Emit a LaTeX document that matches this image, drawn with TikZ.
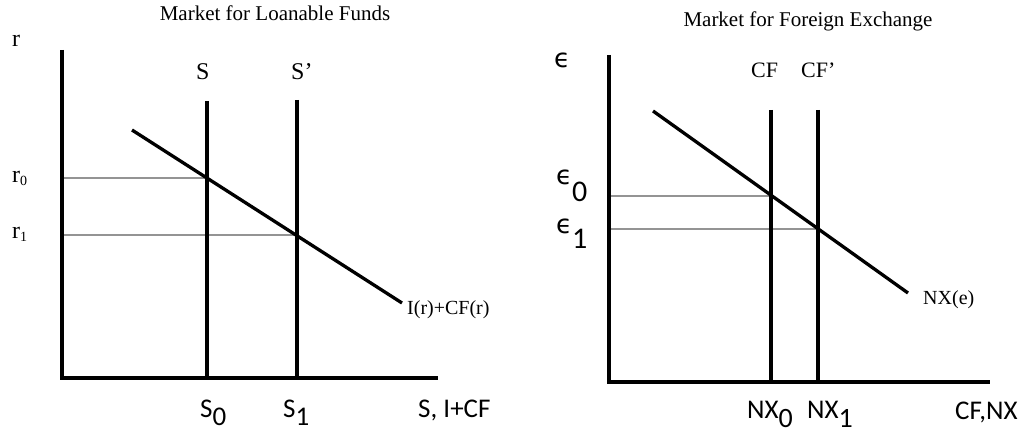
\documentclass[tikz,border=0pt]{standalone}
\usepackage{fontspec}
\setmainfont{Liberation Serif}
\newfontfamily\calfont{Carlito}
\newfontfamily\djfont{DejaVu Sans}
\begin{document}
\begin{tikzpicture}[x=1pt,y=-1pt,
  blk/.style={line width=3.3pt,black},
  axis/.style={line width=3.4pt,black,line join=miter},
  guide/.style={line width=1.6pt,black!42},
  lbl/.style={inner sep=0pt,anchor=base west},
  ttl/.style={inner sep=0pt,anchor=base,font=\fontsize{21}{25}\selectfont},
  srf/.style={lbl,font=\fontsize{24}{28}\selectfont},
  cal/.style={lbl,font=\calfont\fontsize{27}{30}\selectfont}]
\useasboundingbox (0,0) rectangle (1032,435);
\fill[white] (0,0) rectangle (1032,435);
% ---------- left graph coordinates
\coordinate (Ltop) at (62,50);
\coordinate (Lo) at (62,378);
\coordinate (Lxend) at (438,378);
\coordinate (S0t) at (207,101);
\coordinate (S0b) at (207,378);
\coordinate (S1t) at (297,100);
\coordinate (S1b) at (297,378);
\coordinate (Dl1) at (132,130);
\coordinate (Dl2) at (402,303);
\coordinate (E0) at (207,178);
\coordinate (E1) at (297,235);
\coordinate (R0) at (62,178);
\coordinate (R1) at (62,235);
% ---------- right graph coordinates
\coordinate (Rtop) at (609,55);
\coordinate (Ro) at (609,382);
\coordinate (Rxend) at (990,382);
\coordinate (C0t) at (771,110);
\coordinate (C0b) at (771,382);
\coordinate (C1t) at (818,110);
\coordinate (C1b) at (818,382);
\coordinate (Dr1) at (653,111);
\coordinate (Dr2) at (908,293);
\coordinate (F0) at (771,196);
\coordinate (F1) at (818,229);
\coordinate (Q0) at (609,196);
\coordinate (Q1) at (609,229);
% ---------- guides
\draw[guide] (R0) -- (E0);
\draw[guide] (R1) -- (E1);
\draw[guide] (Q0) -- (F0);
\draw[guide] (Q1) -- (F1);
% ---------- curves
\draw[axis] (Ltop) -- (Lo) -- (Lxend);
\draw[blk] (S0t) -- (S0b);
\draw[blk] (S1t) -- (S1b);
\draw[blk] (Dl1) -- (Dl2);
\draw[axis] (Rtop) -- (Ro) -- (Rxend);
\draw[blk] (C0t) -- (C0b);
\draw[blk] (C1t) -- (C1b);
\draw[blk] (Dr1) -- (Dr2);
% ---------- left labels
\node[ttl] (tl) at (275,21) {Market for Loanable Funds};
\node[srf] (ry) at (12,47) {r};
\node[srf] (r0) at (12,183) {r\raisebox{-3pt}{\fontsize{14}{14}\selectfont 0}};
\node[srf] (r1) at (12,239) {r\raisebox{-3pt}{\fontsize{14}{14}\selectfont 1}};
\node[srf] (sl) at (196,80) {S};
\node[srf] (spl) at (291,80) {S’};
\node[lbl,font=\fontsize{20}{24}\selectfont] (dl) at (407,314) {I(r)+CF(r)};
\node[cal] (s0) at (200,417) {S\raisebox{-8pt}{0}};
\node[cal] (s1) at (283,417) {S\raisebox{-8pt}{1}};
\node[cal] (sx) at (418,417) {S, I+CF};
% ---------- right labels
\node[ttl] (tr) at (808,27) {Market for Foreign Exchange};
\node[lbl,font=\djfont\fontsize{26}{30}\selectfont] (ey) at (554,68) {ϵ};
\node[lbl] (e0) at (556,185) {\djfont\fontsize{26}{30}\selectfont ϵ\calfont\fontsize{30}{32}\selectfont\raisebox{-17pt}{0}};
\node[lbl] (e1) at (556,234) {\djfont\fontsize{26}{30}\selectfont ϵ\calfont\fontsize{30}{32}\selectfont\raisebox{-15pt}{1}};
\node[srf,font=\fontsize{22}{26}\selectfont] (cfl) at (751,78) {CF};
\node[srf,font=\fontsize{22}{26}\selectfont] (cfpl) at (801,78) {CF’};
\node[lbl,font=\fontsize{20}{24}\selectfont] (nxl) at (923,304) {NX(e)};
\node[cal] (n0) at (747,418) {NX\raisebox{-9pt}{\fontsize{28}{30}\selectfont 0}};
\node[cal] (n1) at (807,418) {NX\raisebox{-9pt}{\fontsize{28}{30}\selectfont 1}};
\node[cal] (nx) at (955,419) {CF,NX};
\end{tikzpicture}
\end{document}
